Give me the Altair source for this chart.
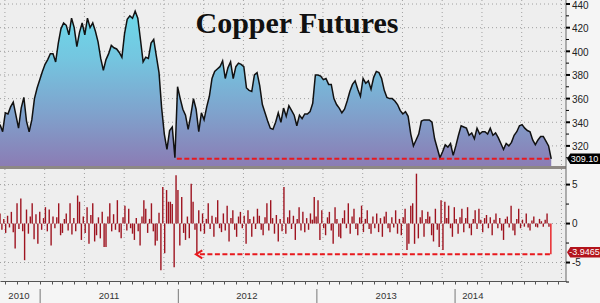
import altair as alt
import pandas as pd

# ---------------- data ----------------
START = "2010-09-17"
# weekly copper futures closes (US cents / lb)
price = [338, 332, 348, 347, 353, 357, 346, 335, 352, 361,
         341, 332, 342, 360, 369, 376, 383, 389, 393, 398,
         398, 391, 407, 419, 424, 422, 414, 428, 420, 404,
         416, 424, 414, 428, 420, 424, 417, 408, 394, 384,
         393, 398, 405, 403, 402, 399, 395, 415, 427, 430,
         428, 434, 428, 410, 391, 395, 394, 407, 410, 396,
         382, 352, 330, 317, 333, 336, 310, 370, 360, 351,
         346, 334, 346, 360, 351, 332, 348, 342, 353, 362,
         377, 383, 385, 387, 392, 377, 386, 391, 377, 387,
         390, 389, 387, 369, 367, 366, 380, 382, 371, 355,
         348, 341, 335, 334, 340, 348, 340, 352, 345, 354,
         350, 346, 337, 346, 343, 347, 347, 349, 356, 380,
         380, 379, 376, 377, 372, 372, 360, 355, 352, 348,
         351, 358, 366, 372, 375, 368, 362, 377, 373, 375,
         368, 378, 383, 382, 377, 367, 361, 360, 360, 358,
         355, 350, 347, 349, 345, 330, 320, 325, 330, 341,
         342, 342, 342, 340, 326, 318, 310, 315, 321, 319,
         322, 312, 320, 329, 337, 336, 335, 329, 331, 326,
         335, 330, 332, 332, 330, 335, 329, 331, 327, 322,
         317, 322, 320, 323, 329, 332, 337, 338, 335, 333,
         332, 325, 321, 325, 328, 328, 324, 320, 309.1]

# % change, sampled every 5 days
chg = [1.3, -0.8, 0.6, -1.2, 1.0, -0.5, 1.5, -1.1, -3.2, 2.6,
       -0.7, 3.2, -1.0, -4.7, 1.8, -1.3, 0.9, 2.6, -2.0, 1.2,
       -2.6, 1.5, -0.8, 0.7, 2.1, -1.0, 1.8, -2.8, 0.9, -0.6,
       0.8, 2.6, -1.5, -1.2, 0.6, 1.3, -0.9, 2.6, -1.4, 0.7,
       -1.0, 3.6, 2.8, -2.1, 0.9, -1.2, 2.1, -2.6, 1.1, 2.6,
       -2.3, -1.5, 0.8, -1.9, 1.5, -3.0, -3.0, 0.9, 2.6, -1.0,
       1.2, -0.8, 3.0, -1.1, -1.9, 0.8, 2.3, -0.9, 1.9, -0.6,
       -1.3, -2.1, 0.7, -1.0, -2.8, 0.9, 3.0, 1.9, -1.2, 0.6,
       2.6, -1.0, -2.8, -2.2, 1.4, -6.0, 4.7, -3.8, 4.3, 2.8,
       2.8, 2.5, -5.6, 6.2, 4.3, -2.8, 3.4, -1.2, -2.1, 0.9,
       -1.9, 5.1, 2.8, -0.8, -4.0, 1.7, -1.0, 1.3, -1.3, 0.6,
       2.6, -0.7, 1.0, -1.7, 0.8, 3.0, -0.6, -1.1, 1.3, -0.9,
       2.3, -2.3, 0.7, 1.7, -0.8, -1.7, 0.9, 1.5, -0.6, 1.0,
       -2.6, 1.7, 0.6, -1.7, 0.9, -0.7, 1.9, 1.0, -0.8, -1.5,
       0.8, 2.6, -0.9, 3.0, 0.7, -1.3, 1.1, -2.3, 0.6, -1.0,
       4.7, -1.3, 0.8, 1.7, -0.7, 1.0, -2.1, 0.6, 2.1, -0.9,
       1.5, -1.1, 0.7, -0.8, 1.3, 0.5, 3.4, 0.9, 3.0, -2.1,
       1.7, -0.6, -1.5, 0.8, 1.5, -0.9, -2.6, 2.1, 0.6, -1.7,
       -1.9, 0.7, 1.7, -0.6, 2.6, -1.3, 0.9, 1.9, -0.7, -1.5,
       0.8, 2.3, -1.1, 0.6, 1.7, -0.7, -1.3, 0.9, -0.6, 1.3,
       -1.1, 0.7, -1.7, 0.9, 1.5, -0.6, -1.1, 0.8, -0.5, 1.7,
       -1.3, 0.6, -1.5, 0.8, 1.9, -3.4, -2.6, 2.3, 2.6, -2.6,
       6.4, -1.9, 0.8, 1.7, -1.7, 0.6, 1.5, 0.9, -1.5, -2.3,
       1.9, -0.8, -3.0, 3.0, -3.4, 2.8, 0.7, 2.3, -0.6, -1.7,
       2.1, 0.6, -1.3, 0.8, 1.9, -1.1, 0.7, 2.1, -0.6, -1.5,
       0.6, 1.7, -0.7, 1.9, 0.5, -1.1, 0.7, 1.1, -0.6, 0.8,
       -1.5, 0.5, 1.3, -0.6, 0.7, -0.9, -2.1, 0.6, 0.9, -0.5,
       2.3, -0.9, -1.5, 0.6, 1.9, -0.6, 0.5, -0.4, 1.3, -0.5,
       -0.9, 0.4, 0.9, -0.4, -0.5, 0.6, 0.3, -0.4, 0.5, 1.3, -0.4,
       -3.9465]

last_price = 309.10
last_chg = -3.9465
low_date = "2011-12-28"       # start of the red dashed level line (top)
arrow_date = "2012-02-27"     # tip of the red dashed arrow (bottom)
end_date = "2014-09-12"

years = ["2010", "2011", "2012", "2013", "2014"]
year_label_dates = ["2010-11-06", "2011-07-02", "2012-06-30", "2013-07-03", "2014-02-17"]
year_starts = ["2011-01-01", "2012-01-01", "2013-01-01", "2014-01-01"]
grid_dates = ["2010-09-30", "2011-01-13", "2011-04-28", "2011-08-11", "2011-11-24",
              "2012-03-08", "2012-06-21", "2012-10-04", "2013-01-17", "2013-05-02",
              "2013-08-15", "2013-11-28", "2014-03-13", "2014-06-26", "2014-10-09"]
price_ticks = [320, 340, 360, 380, 400, 420, 440]
price_minor = [310, 330, 350, 370, 390, 410, 430]
chg_ticks = [-5, 0, 5]
chg_minor = [-7.5, -2.5, 2.5]

# ---------------- tables ----------------
pdf = pd.DataFrame({"date": pd.date_range(START, periods=len(price), freq="7D"), "v": price})
cdf = pd.DataFrame({"date": pd.date_range(START, periods=len(chg), freq="5D"), "v": chg})
cdf["hl"] = [i == len(chg) - 1 for i in range(len(chg))]
gdf = pd.DataFrame({"date": pd.to_datetime(grid_dates)})
ydf = pd.DataFrame({"year": years, "date": pd.to_datetime(year_label_dates)})
sdf = pd.DataFrame({"date": pd.to_datetime(year_starts)})
lvl_top = pd.DataFrame({"d1": [pd.Timestamp(low_date)], "d2": [pd.Timestamp(end_date)], "v": [last_price]})
lvl_bot = pd.DataFrame({"d1": [pd.Timestamp(arrow_date)], "d2": [pd.Timestamp(end_date)], "v": [last_chg]})
ptk = pd.DataFrame({"v": price_ticks, "t": [str(v) for v in price_ticks]})
pmn = pd.DataFrame({"v": price_minor})
ctk = pd.DataFrame({"v": chg_ticks, "t": [str(v) for v in chg_ticks]})
cmn = pd.DataFrame({"v": chg_minor})
one = pd.DataFrame({"a": [0]})

# ---------------- layout / style ----------------
W, H = 600, 303
PX = 566            # right edge of the plotting area (axis line)
TOP_B = 166         # bottom of the price panel
BOT_T, BOT_B = 169, 281
FONT = "Liberation Sans Narrow, Liberation Sans"
RED = "#e8191e"
BAR = "#9e1420"
GRID = "#a0a0a0"
BG = "#eeeeee"

XAX = alt.Axis(orient="bottom", offset=BOT_B - H, labels=False, grid=False,
               tickCount={"interval": "month", "step": 1}, tickSize=3,
               tickColor="#555", domainColor="#555", title=None)
xs = alt.Scale(domain=[alt.DateTime(year=2010, month=9, date=17),
                       alt.DateTime(year=2014, month=10, date=21)],
               range=[0, PX], nice=False, padding=0)
yp = alt.Scale(domain=[303, 443.4], range=[TOP_B, 0], nice=False, zero=False)
yc = alt.Scale(domain=[-7.37, 7.0], range=[BOT_B, BOT_T], nice=False, zero=False)

def X(f="date:T"):
    return alt.X(f, scale=xs, axis=XAX, title=None)

def YP(f="v:Q"):
    return alt.Y(f, scale=yp, axis=None, title=None)

def YC(f="v:Q"):
    return alt.Y(f, scale=yc, axis=None, title=None)

layers = []
# panel backgrounds and separator
layers.append(alt.Chart(one).mark_rect(color=BG).encode(
    x=alt.value(0), x2=alt.value(PX), y=alt.value(0), y2=alt.value(BOT_B)))
layers.append(alt.Chart(one).mark_rect(color="#8d8884").encode(
    x=alt.value(0), x2=alt.value(PX), y=alt.value(TOP_B), y2=alt.value(BOT_T)))
# vertical dotted grid
for y0, y1 in [(0, TOP_B), (BOT_T, BOT_B)]:
    layers.append(alt.Chart(gdf).mark_rule(color=GRID, strokeDash=[1, 3]).encode(
        x=X(), y=alt.value(y0), y2=alt.value(y1)))
# horizontal dotted grid
layers.append(alt.Chart(ptk).mark_rule(color=GRID, strokeDash=[1, 3]).encode(
    y=YP(), x=alt.value(0), x2=alt.value(PX)))
layers.append(alt.Chart(ctk).mark_rule(color=GRID, strokeDash=[1, 3]).encode(
    y=YC(), x=alt.value(0), x2=alt.value(PX)))

# price area + line
gradient = alt.Gradient(gradient="linear",
                        stops=[alt.GradientStop(color="#6dd9ea", offset=0),
                               alt.GradientStop(color="#74c6e0", offset=0.3),
                               alt.GradientStop(color="#7fa3cd", offset=0.65),
                               alt.GradientStop(color="#8b7cb4", offset=1)],
                        x1=1, x2=1, y1=0, y2=1)
layers.append(alt.Chart(pdf).mark_area(color=gradient).encode(
    x=X(), y=YP(), y2=alt.datum(303)))
layers.append(alt.Chart(pdf).mark_line(color="#111", strokeWidth=1.5).encode(x=X(), y=YP()))
layers.append(alt.Chart(lvl_top).mark_rule(color=RED, strokeDash=[5, 2.5], strokeWidth=2).encode(
    x=X("d1:T"), x2="d2:T", y=YP()))

# change bars
layers.append(alt.Chart(cdf).mark_bar(width=1.4).encode(
    x=X(), y=YC(), y2=alt.datum(0),
    color=alt.condition(alt.datum.hl, alt.value(RED), alt.value(BAR))))
layers.append(alt.Chart(lvl_bot).mark_rule(color=RED, strokeDash=[5, 2.5], strokeWidth=2).encode(
    x=X("d1:T"), x2="d2:T", y=YC()))
layers.append(alt.Chart(lvl_bot).mark_point(shape="M0.6,-1L-1,0L0.6,1", size=64, filled=False,
                                            color=RED, strokeWidth=2, opacity=1).encode(
    x=X("d1:T"), y=YC()))

# right axis: line, ticks, labels
layers.append(alt.Chart(one).mark_rule(color="#666").encode(
    x=alt.value(PX), y=alt.value(0), y2=alt.value(BOT_B)))
for df, Y, dy in [(ptk, YP, 1.5), (ctk, YC, 0)]:
    layers.append(alt.Chart(df).mark_rule(color="#000", strokeWidth=2).encode(
        y=Y(), x=alt.value(PX), x2=alt.value(PX + 4)))
    layers.append(alt.Chart(df).mark_text(font=FONT, fontSize=10, color="#222", dy=dy,
                                          align="left", baseline="middle").encode(
        y=Y(), x=alt.value(PX + 6), text="t:N"))
for df, Y in [(pmn, YP), (cmn, YC)]:
    layers.append(alt.Chart(df).mark_rule(color="#000", strokeWidth=1).encode(
        y=Y(), x=alt.value(PX), x2=alt.value(PX + 3)))

# last-value tags
BOX = "M-1,0L-0.8,-0.32L1,-0.32L1,0.32L-0.8,0.32Z"
lab_p = pd.DataFrame({"v": [last_price], "t": ["309.10"]})
lab_c = pd.DataFrame({"v": [last_chg], "t": ["-3.9465"]})
layers.append(alt.Chart(lab_p).mark_point(shape=BOX, size=1089, filled=True,
                                          color="#000", opacity=1).encode(
    y=YP(), x=alt.value(583.5)))
layers.append(alt.Chart(lab_p).mark_text(color="#fff", font=FONT, fontSize=9,
                                         align="center", baseline="middle").encode(
    y=YP(), x=alt.value(584.5), text="t:N"))
layers.append(alt.Chart(lab_c).mark_point(shape=BOX, size=1089, filled=True,
                                          color="#b3141c", opacity=1).encode(
    y=YC(), x=alt.value(583.5), yOffset=alt.value(-2)))
layers.append(alt.Chart(lab_c).mark_text(color="#fff", font=FONT, fontSize=9,
                                         align="center", baseline="middle", dy=-2).encode(
    y=YC(), x=alt.value(584.5), text="t:N"))

# title
layers.append(alt.Chart(pd.DataFrame({"t": ["Copper Futures"]})).mark_text(
    font="Liberation Serif", fontWeight="bold", fontSize=30, color="#111",
    baseline="alphabetic", align="center").encode(
    text="t:N", x=alt.value(297), y=alt.value(33)))

# year labels and separators
layers.append(alt.Chart(sdf).mark_rule(color="#777", strokeWidth=1).encode(
    x=X(), y=alt.value(289), y2=alt.value(H)))
layers.append(alt.Chart(ydf).mark_text(font=FONT, fontSize=9.5, color="#333",
                                       baseline="middle", align="center").encode(
    x=X(), y=alt.value(296), text="year:N"))

chart = alt.layer(*layers).resolve_scale(y="independent").properties(
    width=W, height=H, padding=0, background="#f5f5f5",
    autosize=alt.AutoSizeParams(type="none"),
).configure_view(stroke=None)

chart.save("out.html", embed_options={"renderer": "svg", "actions": False})
